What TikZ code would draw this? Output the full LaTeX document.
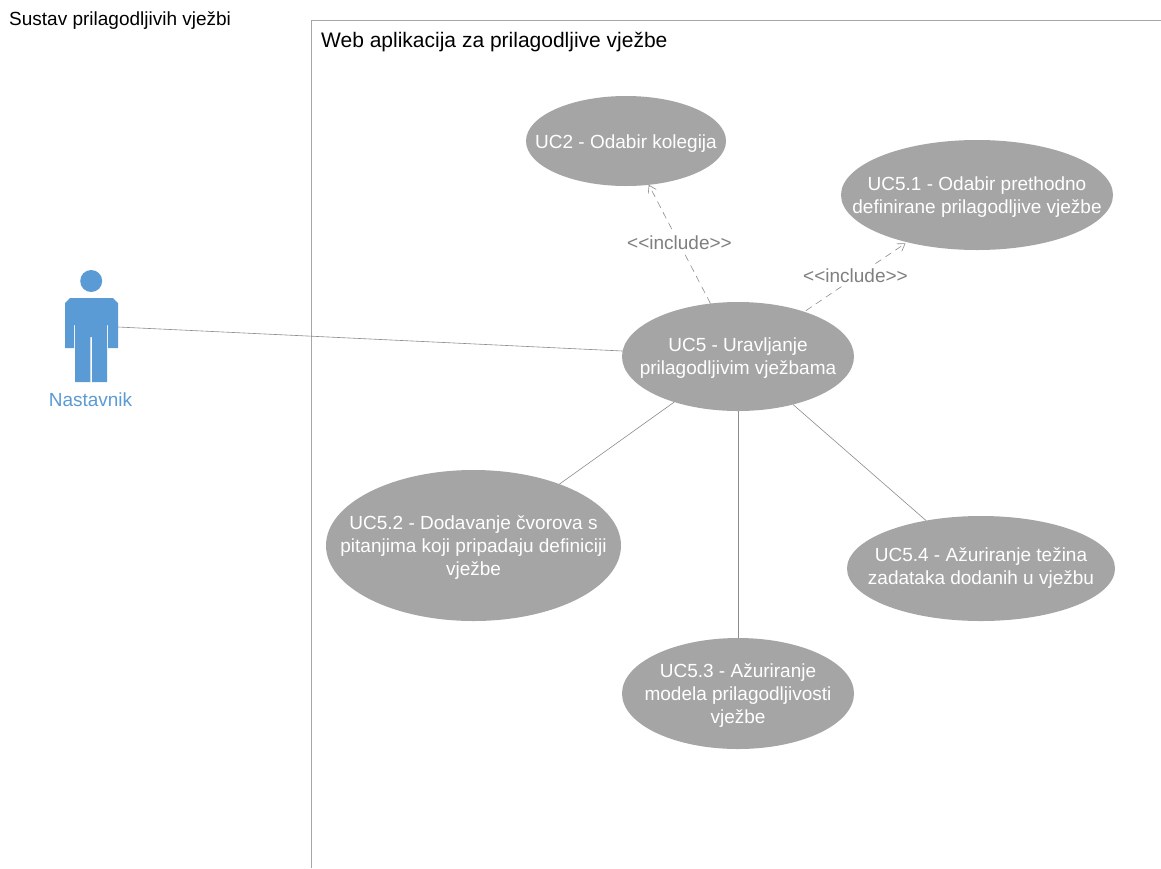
\documentclass[tikz,border=0pt]{standalone}
\usepackage{fontspec}
\setmainfont{Liberation Sans}
\usetikzlibrary{shapes.geometric,arrows.meta}
\definecolor{uc}{HTML}{A5A5A5}
\definecolor{act}{HTML}{5B9BD5}
\definecolor{lbl}{HTML}{7F7F7F}
\definecolor{lnk}{HTML}{8C8C8C}
\definecolor{frm}{HTML}{A6A6A6}
\newcommand{\tg}{\rule{0pt}{18pt}}
\newcommand{\tgs}{\rule{0pt}{16.5pt}}
\tikzset{
  usecase/.style={ellipse,fill=uc,draw=none,inner ysep=-40pt,inner xsep=-200pt,outer sep=0pt,text=white,align=center,font=\fontsize{19}{23}\selectfont},
  assoc/.style={draw=lnk,line width=0.6pt},
  incl/.style={draw=lnk,line width=0.6pt,dash pattern=on 7pt off 5pt,-{Straight Barb[length=7pt,width=9pt,line width=0.6pt]}},
  incllabel/.style={fill=white,text=lbl,inner xsep=1pt,inner ysep=3pt,font=\fontsize{19}{22}\selectfont},
  sysname/.style={anchor=west,inner sep=0pt,text=black,font=\fontsize{19}{22}\selectfont},
  webname/.style={anchor=west,inner sep=0pt,text=black,font=\fontsize{21}{24}\selectfont}
}
\begin{document}
\begin{tikzpicture}[x=1pt,y=-1pt]
\useasboundingbox (0,0) rectangle (1161,868);
\fill[white] (0,0) rectangle (1161,868);
\draw[frm,line width=0.9pt] (311.5,868) -- (311.5,20) -- (1161,20);
\node[sysname] (sys) at (9,20.5) {Sustav prilagodljivih vježbi};
\node[webname] (web) at (321,42.5) {Web aplikacija za prilagodljive vježbe};
% actor
\fill[act] (91.2,281) circle (11);
\fill[act] (70,298) -- (113,298) -- (118,303) -- (118,348) -- (108,348) -- (108,325) -- (107,325) -- (107,382) -- (92,382) -- (92,337) -- (90.3,337) -- (90.3,382) -- (75,382) -- (75,325) -- (74.2,325) -- (74.2,348) -- (65,348) -- (65,303) -- cycle;
\coordinate (actor) at (118,327);
\node[text=act,font=\fontsize{19}{22}\selectfont,inner sep=0pt] (actorname) at (90.5,400) {Nastavnik};
% use cases
\node[usecase,minimum width=200pt,minimum height=90pt] (uc2) at (626,141) {\tg UC2 - Odabir kolegija};
\node[usecase,minimum width=272pt,minimum height=110pt] (uc51) at (977,195) {\tg UC5.1 - Odabir prethodno\\definirane prilagodljive vježbe};
\node[usecase,minimum width=232pt,minimum height=109pt] (uc5) at (738,356.5) {\tgs UC5 - Uravljanje\\prilagodljivim vježbama};
\node[usecase,minimum width=295pt,minimum height=151pt] (uc52) at (473.5,545.5) {\tg UC5.2 - Dodavanje čvorova s\\pitanjima koji pripadaju definiciji\\vježbe};
\node[usecase,minimum width=268pt,minimum height=105pt] (uc54) at (981,568.5) {UC5.4 - Ažuriranje težina\\zadataka dodanih u vježbu};
\node[usecase,minimum width=232pt,minimum height=111pt] (uc53) at (738,693.5) {\tg UC5.3 - Ažuriranje\\modela prilagodljivosti\\vježbe};
% connectors
\draw[assoc] (actor) -- (uc5);
\draw[assoc] (uc5) -- (uc52);
\draw[assoc] (uc5) -- (uc53);
\draw[assoc] (uc5) -- (uc54);
\draw[incl] (uc5) -- (uc2);
\draw[incl,shorten <=2pt,shorten >=2pt] (uc5) -- (uc51);
\node[incllabel] (l1) at (679.5,243) {<{}<include>{}>};
\node[incllabel] (l2) at (855.5,275.5) {<{}<include>{}>};
\end{tikzpicture}
\end{document}
